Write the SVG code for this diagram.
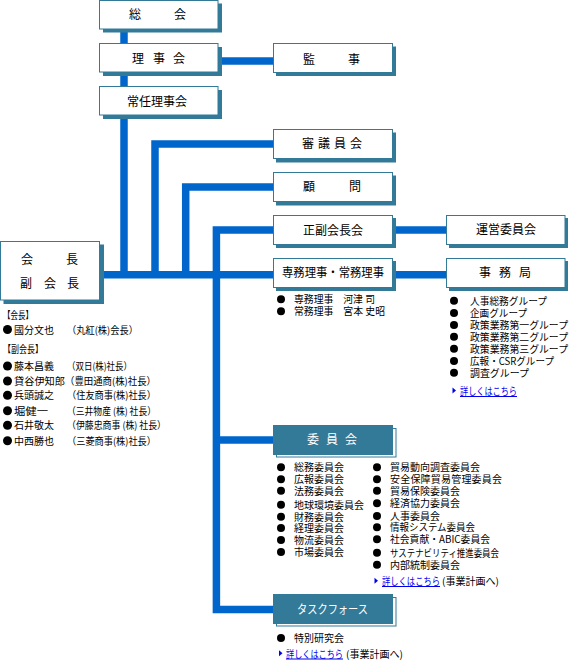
<svg xmlns="http://www.w3.org/2000/svg" width="569" height="660" viewBox="0 0 569 660">
<style>
text{font-family:"Noto Sans CJK JP","Liberation Sans",sans-serif;fill:#000}
.lbl{font-size:12px}
.w{fill:#fff}
.li{font-size:10px}
.sh{fill:#337a99}
.bx{fill:#fff;stroke:#337a99;stroke-width:1}
.fb{fill:#337a99}
.ln{fill:none;stroke:#0066cc;stroke-width:7.5;stroke-linejoin:miter;stroke-linecap:butt}
.bul{fill:#000}
.lk{fill:#0000ee;text-decoration:underline}
.mk{fill:#0000ee}
</style>
<defs>
<polygon id="tri" points="0,-3 3.5,0 0,3"/>
</defs>
<rect width="569" height="660" fill="#fff"/>
<g id="connectors">
<path class="ln" d="M124,29 V275"/>
<path class="ln" d="M218,61 H273"/>
<path class="ln" d="M100,274.7 H273"/>
<path class="ln" d="M273,144 H155 V275"/>
<path class="ln" d="M273,187 H185.7 V275"/>
<path class="ln" d="M273,230 H216.4 V609.5 H273"/>
<path class="ln" d="M216.4,440 H273"/>
<path class="ln" d="M393,230 H446"/>
<path class="ln" d="M393,274.7 H446"/>
</g>
<g id="sokai">
<rect class="sh" x="103" y="3.5" width="119" height="29"/>
<rect class="bx" x="99.5" y="0.5" width="118.5" height="28.5"/>
<text class="lbl" x="129 174" y="19">総会</text>
</g>
<g id="rijikai">
<rect class="sh" x="103" y="47" width="119" height="29"/>
<rect class="bx" x="99.5" y="43.5" width="118.5" height="28.5"/>
<text class="lbl" x="132 153 173" y="62.5">理事会</text>
</g>
<g id="jonin">
<rect class="sh" x="103" y="90" width="119" height="29"/>
<rect class="bx" x="99.5" y="86.5" width="118.5" height="28.5"/>
<text class="lbl" x="127" y="105.5">常任理事会</text>
</g>
<g id="kanji">
<rect class="sh" x="276" y="46.5" width="120" height="29.5"/>
<rect class="bx" x="273.5" y="43.5" width="119" height="29"/>
<text class="lbl" x="303 348" y="63.5">監事</text>
</g>
<g id="shingiin">
<rect class="sh" x="276" y="132.5" width="120" height="30"/>
<rect class="bx" x="273.5" y="129.5" width="119" height="29"/>
<text class="lbl" x="302 318 334 350" y="148">審議員会</text>
</g>
<g id="komon">
<rect class="sh" x="276" y="175.5" width="120" height="30"/>
<rect class="bx" x="273.5" y="172.5" width="119" height="29"/>
<text class="lbl" x="303 349" y="191">顧問</text>
</g>
<g id="seifuku">
<rect class="sh" x="276" y="218" width="120" height="30"/>
<rect class="bx" x="273.5" y="215.5" width="119" height="29"/>
<text class="lbl" x="303" y="234.5">正副会長会</text>
</g>
<g id="senmu">
<rect class="sh" x="276" y="261" width="120" height="30"/>
<rect class="bx" x="273.5" y="258.5" width="119" height="29"/>
<text class="lbl" x="282" y="277" textLength="102" lengthAdjust="spacingAndGlyphs">専務理事・常務理事</text>
</g>
<g id="unei">
<rect class="sh" x="449" y="218" width="119" height="30"/>
<rect class="bx" x="446.5" y="215.5" width="118.5" height="29"/>
<text class="lbl" x="476" y="234">運営委員会</text>
</g>
<g id="jimukyoku">
<rect class="sh" x="449" y="261" width="119" height="30"/>
<rect class="bx" x="446.5" y="258.5" width="118.5" height="29"/>
<text class="lbl" x="479 499 519" y="277">事務局</text>
</g>
<g id="kaicho">
<rect class="sh" x="3.5" y="244.5" width="100.5" height="59.5"/>
<rect class="bx" x="0.5" y="241.5" width="99" height="58.5"/>
<text class="lbl" x="21 66" y="263.5">会長</text>
<text class="lbl" x="20 44 67" y="288">副会長</text>
</g>
<g id="iinkai">
<rect class="bx" x="276.5" y="428.5" width="119.5" height="28.5"/>
<rect class="fb" x="273" y="425" width="120" height="30"/>
<text class="lbl w" x="307 326 345" y="444">委員会</text>
</g>
<g id="taskforce">
<rect class="bx" x="276.5" y="597.5" width="119.5" height="28.5"/>
<rect class="fb" x="273" y="594" width="120" height="30"/>
<text class="lbl w" x="297" y="614" textLength="71" lengthAdjust="spacingAndGlyphs">タスクフォース</text>
</g>
<g id="kaicho-list">
<text class="li" x="3" y="319" textLength="30" lengthAdjust="spacingAndGlyphs">【会長】</text>
<circle class="bul" cx="7.5" cy="329.5" r="4.5"/>
<text class="li" x="14" y="333.5">國分文也</text>
<text class="li" x="67" y="333.5" textLength="71" lengthAdjust="spacingAndGlyphs">（丸紅(株)会長）</text>
<text class="li" x="3" y="353" textLength="40" lengthAdjust="spacingAndGlyphs">【副会長】</text>
<circle class="bul" cx="7.5" cy="366" r="4.5"/>
<text class="li" x="14" y="370">藤本昌義</text>
<text class="li" x="67" y="370" textLength="65" lengthAdjust="spacingAndGlyphs">（双日(株)社長）</text>
<circle class="bul" cx="7.5" cy="381" r="4.5"/>
<text class="li" x="14" y="385" textLength="51" lengthAdjust="spacingAndGlyphs">貸谷伊知郎</text>
<text class="li" x="65" y="385" textLength="91" lengthAdjust="spacingAndGlyphs">（豊田通商(株)社長）</text>
<circle class="bul" cx="7.5" cy="395.3" r="4.5"/>
<text class="li" x="14" y="399.3">兵頭誠之</text>
<text class="li" x="67" y="399.3" textLength="89" lengthAdjust="spacingAndGlyphs">（住友商事(株)社長）</text>
<circle class="bul" cx="7.5" cy="410.7" r="4.5"/>
<text class="li" x="14" y="414.7" textLength="34" lengthAdjust="spacingAndGlyphs">堀健一</text>
<text class="li" x="67" y="414.7" textLength="89" lengthAdjust="spacingAndGlyphs">（三井物産 (株) 社長）</text>
<circle class="bul" cx="7.5" cy="425.3" r="4.5"/>
<text class="li" x="14" y="429.3">石井敬太</text>
<text class="li" x="67" y="429.3" textLength="99" lengthAdjust="spacingAndGlyphs">（伊藤忠商事 (株) 社長）</text>
<circle class="bul" cx="7.5" cy="440.7" r="4.5"/>
<text class="li" x="14" y="444.7">中西勝也</text>
<text class="li" x="67" y="444.7" textLength="89" lengthAdjust="spacingAndGlyphs">（三菱商事(株)社長）</text>
</g>
<g id="senmu-list">
<circle class="bul" cx="281" cy="299.3" r="4"/>
<text class="li" x="294" y="303.3" textLength="81" lengthAdjust="spacingAndGlyphs">専務理事　河津 司</text>
<circle class="bul" cx="281" cy="311.3" r="4"/>
<text class="li" x="294" y="315.3" textLength="91" lengthAdjust="spacingAndGlyphs">常務理事　宮本 史昭</text>
</g>
<g id="jimukyoku-list">
<circle class="bul" cx="454" cy="300.7" r="4"/>
<text class="li" x="470" y="304.7" textLength="77" lengthAdjust="spacingAndGlyphs">人事総務グループ</text>
<circle class="bul" cx="454" cy="313" r="4"/>
<text class="li" x="470" y="317" textLength="57" lengthAdjust="spacingAndGlyphs">企画グループ</text>
<circle class="bul" cx="454" cy="325" r="4"/>
<text class="li" x="470" y="329" textLength="98" lengthAdjust="spacingAndGlyphs">政策業務第一グループ</text>
<circle class="bul" cx="454" cy="336.7" r="4"/>
<text class="li" x="470" y="340.7" textLength="98" lengthAdjust="spacingAndGlyphs">政策業務第二グループ</text>
<circle class="bul" cx="454" cy="348.7" r="4"/>
<text class="li" x="470" y="352.7" textLength="98" lengthAdjust="spacingAndGlyphs">政策業務第三グループ</text>
<circle class="bul" cx="454" cy="361" r="4"/>
<text class="li" x="470" y="365" textLength="84" lengthAdjust="spacingAndGlyphs">広報・CSRグループ</text>
<circle class="bul" cx="454" cy="372.7" r="4"/>
<text class="li" x="470" y="376.7" textLength="59" lengthAdjust="spacingAndGlyphs">調査グループ</text>
<use href="#tri" class="mk" x="452.5" y="390.5"/>
<text class="li lk" x="460" y="395" textLength="57" lengthAdjust="spacingAndGlyphs">詳しくはこちら</text>
</g>
<g id="iinkai-list">
<circle class="bul" cx="281" cy="467.3" r="4"/>
<text class="li" x="294" y="471.3">総務委員会</text>
<circle class="bul" cx="281" cy="479.3" r="4"/>
<text class="li" x="294" y="483.3">広報委員会</text>
<circle class="bul" cx="281" cy="490.7" r="4"/>
<text class="li" x="294" y="494.7">法務委員会</text>
<circle class="bul" cx="281" cy="504.7" r="4"/>
<text class="li" x="294" y="508.7">地球環境委員会</text>
<circle class="bul" cx="281" cy="516.7" r="4"/>
<text class="li" x="294" y="520.7">財務委員会</text>
<circle class="bul" cx="281" cy="528" r="4"/>
<text class="li" x="294" y="532">経理委員会</text>
<circle class="bul" cx="281" cy="540" r="4"/>
<text class="li" x="294" y="544">物流委員会</text>
<circle class="bul" cx="281" cy="552" r="4"/>
<text class="li" x="294" y="556">市場委員会</text>
<circle class="bul" cx="377" cy="467.3" r="4"/>
<text class="li" x="390" y="471.3">貿易動向調査委員会</text>
<circle class="bul" cx="377" cy="479.3" r="4"/>
<text class="li" x="390" y="483.3" textLength="112">安全保障貿易管理委員会</text>
<circle class="bul" cx="377" cy="490.7" r="4"/>
<text class="li" x="390" y="494.7">貿易保険委員会</text>
<circle class="bul" cx="377" cy="503.3" r="4"/>
<text class="li" x="390" y="507.3">経済協力委員会</text>
<circle class="bul" cx="377" cy="516" r="4"/>
<text class="li" x="390" y="520">人事委員会</text>
<circle class="bul" cx="377" cy="527.3" r="4"/>
<text class="li" x="390" y="531.3" textLength="85" lengthAdjust="spacingAndGlyphs">情報システム委員会</text>
<circle class="bul" cx="377" cy="539.3" r="4"/>
<text class="li" x="390" y="543.3" textLength="100" lengthAdjust="spacingAndGlyphs">社会貢献・ABIC委員会</text>
<circle class="bul" cx="377" cy="552.7" r="4"/>
<text class="li" x="390" y="556.7" textLength="109" lengthAdjust="spacingAndGlyphs">サステナビリティ推進委員会</text>
<circle class="bul" cx="377" cy="564.7" r="4"/>
<text class="li" x="390" y="568.7">内部統制委員会</text>
<use href="#tri" class="mk" x="374.5" y="580.7"/>
<text class="li lk" x="382" y="585" textLength="58" lengthAdjust="spacingAndGlyphs">詳しくはこちら</text>
<text class="li" x="442" y="585" textLength="57" lengthAdjust="spacingAndGlyphs">(事業計画へ)</text>
</g>
<g id="taskforce-list">
<circle class="bul" cx="281" cy="638" r="4"/>
<text class="li" x="294" y="642">特別研究会</text>
<use href="#tri" class="mk" x="279" y="653.3"/>
<text class="li lk" x="286" y="657.5" textLength="57" lengthAdjust="spacingAndGlyphs">詳しくはこちら</text>
<text class="li" x="346" y="657.5" textLength="57" lengthAdjust="spacingAndGlyphs">(事業計画へ)</text>
</g>
</svg>
